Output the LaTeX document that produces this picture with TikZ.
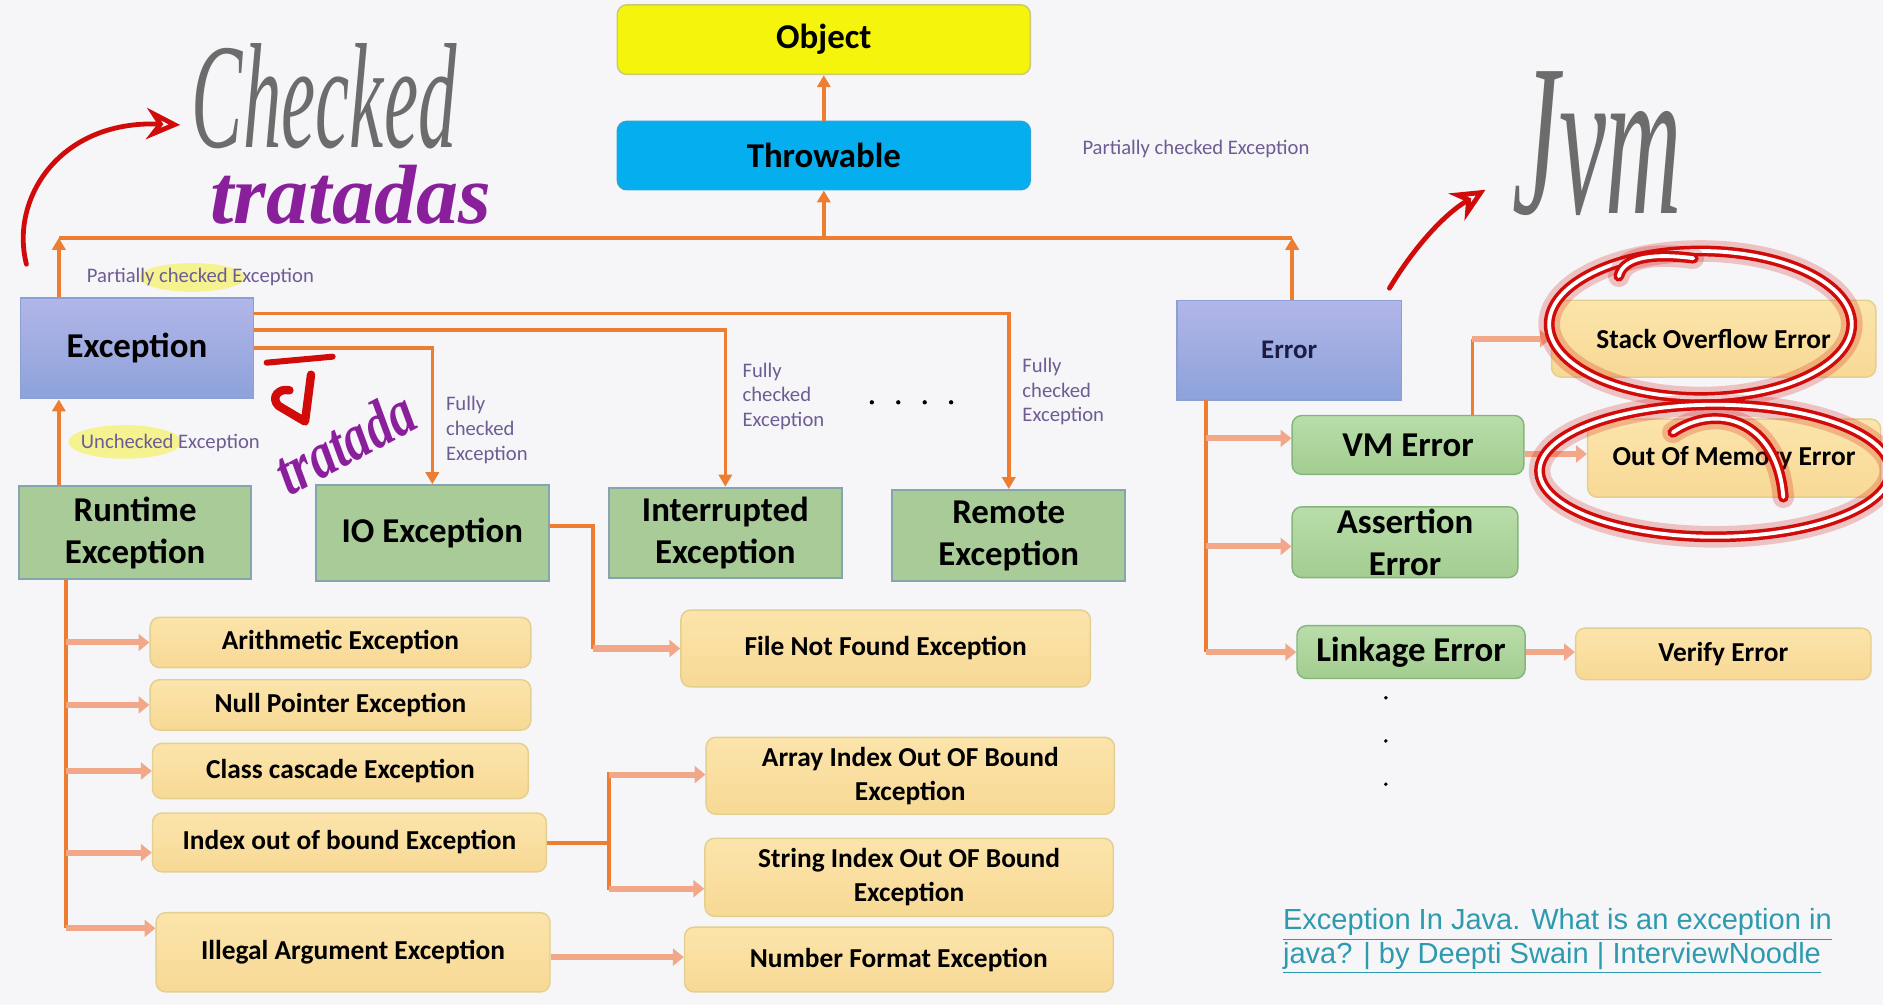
\documentclass[tikz,border=0pt]{standalone}
\usepackage{fontspec}
\usepackage{graphicx}
\setmainfont{Carlito}
\newfontfamily\linkfont{Liberation Sans}
\newfontfamily\handfont{Liberation Serif}
\usetikzlibrary{arrows.meta,calc}

\definecolor{bg}{HTML}{F6F6F8}
\definecolor{connc}{HTML}{ED7D31}
\definecolor{salm}{HTML}{F2A888}
\definecolor{objY}{HTML}{F4F40C}
\definecolor{objB}{HTML}{C8C878}
\definecolor{thrB}{HTML}{05AEEE}
\definecolor{thrD}{HTML}{2BA3DA}
\definecolor{purT}{HTML}{B2B6E8}
\definecolor{purB}{HTML}{8CA2DA}
\definecolor{purD}{HTML}{8C9FD4}
\definecolor{grnF}{HTML}{A8CB97}
\definecolor{grnD}{HTML}{86A3B0}
\definecolor{grnT}{HTML}{B9DDAA}
\definecolor{grnBot}{HTML}{A3CD90}
\definecolor{grnR}{HTML}{86B57C}
\definecolor{orT}{HTML}{FBE4AB}
\definecolor{orB}{HTML}{F8D995}
\definecolor{orD}{HTML}{E3CF90}
\definecolor{lblc}{HTML}{6E5C94}
\definecolor{linkc}{HTML}{2E9AAE}
\definecolor{ink}{HTML}{D10A0A}
\definecolor{pen}{HTML}{6C6C6C}
\definecolor{purp}{HTML}{8A1F9C}
\definecolor{hl}{HTML}{F5F23A}
\definecolor{navy}{HTML}{1C1C44}

\newcommand\bigf{\fontsize{14.5}{17.5}\selectfont\bfseries}
\newcommand\midf{\fontsize{11.4}{14}\selectfont\bfseries}
\newcommand\lblf{\fontsize{8.6}{10.25}\selectfont}

\tikzset{
 boxbase/.style={inner sep=0pt, align=center, text=black},
 objbox/.style={boxbase, rounded corners=4pt, fill=objY, draw=objB, line width=.6pt, font=\bigf},
 thrbox/.style={boxbase, rounded corners=4pt, fill=thrB, draw=thrD, line width=.6pt, font=\bigf},
 purbox/.style={boxbase, top color=purT, bottom color=purB, draw=purD, line width=.6pt},
 grnbox/.style={boxbase, fill=grnF, draw=grnD, line width=.8pt, font=\bigf},
 grnrbox/.style={boxbase, rounded corners=4pt, top color=grnT, bottom color=grnBot, draw=grnR, line width=.6pt, font=\bigf},
 orbox/.style={boxbase, rounded corners=4pt, top color=orT, bottom color=orB, draw=orD, line width=.6pt, font=\midf},
 conline/.style={draw=connc, line width=1.5pt},
 conarrow/.style={conline, -{Triangle[length=5pt,width=5.5pt]}},
 subarrow/.style={draw=salm, line width=2.5pt, -{Triangle[length=4.5pt,width=7pt]}},
 lbl/.style={text=lblc, font=\lblf, inner sep=0pt, align=left, anchor=west},
 glow/.style={draw=ink, line width=9pt, draw opacity=.22, line cap=round},
 redcore/.style={draw=ink, line width=4.5pt, line cap=round},
 whitecore/.style={draw=white, line width=1.6pt, line cap=round},
 redpen/.style={draw=ink, line width=2pt, line cap=round},
}

\newcommand\bx[7]{\node[#2, minimum width={(#5-#3)*0.5pt}, minimum height={(#6-#4)*0.5pt}] (#1) at ({(#3+#5)/2},{(#4+#6)/2}) {#7};}
\newcommand\neon[1]{\path[glow] #1; \path[redcore] #1; \path[whitecore] #1;}

\begin{document}
\begin{tikzpicture}[x=0.5pt,y=-0.5pt]
\fill[bg] (0,0) rectangle (1568,837);
\useasboundingbox (0,0) rectangle (1568,837);

% highlights
\fill[hl, opacity=.55] (160,231) ellipse (44 and 12);
\fill[hl, opacity=.55] (104,368) ellipse (47 and 14);

% boxes
\bx{object}{objbox}{514}{4}{858}{62}{Object}
\bx{throw}{thrbox}{514}{101}{858}{158}{Throwable}
\bx{exc}{purbox, font=\bigf}{17}{248}{211}{332}{Exception}
\bx{err}{purbox, font=\fontsize{11.2}{13}\selectfont\bfseries, text=navy}{980}{250}{1167}{333}{Error}
\bx{rt}{grnbox}{16}{405}{209}{482}{Runtime\\Exception}
\bx{io}{grnbox}{263}{404}{457}{484}{IO Exception}
\bx{intr}{grnbox}{507}{406}{701}{481}{Interrupted\\Exception}
\bx{rem}{grnbox}{743}{408}{937}{484}{Remote\\Exception}
\bx{arith}{orbox}{125}{514}{442}{556}{Arithmetic Exception}
\bx{npe}{orbox}{125}{566}{442}{608}{Null Pointer Exception}
\bx{cce}{orbox}{127}{619}{440}{665}{Class cascade Exception}
\bx{iob}{orbox}{127}{677}{455}{726}{Index out of bound Exception}
\bx{iae}{orbox}{130}{760}{458}{826}{Illegal Argument Exception}
\bx{fnf}{orbox}{567}{508}{908}{572}{File Not Found Exception}
\bx{aiob}{orbox}{588}{614}{928}{678}{Array Index Out OF Bound\\Exception}
\bx{siob}{orbox}{587}{698}{927}{763}{String Index Out OF Bound\\Exception}
\bx{nfe}{orbox}{570}{772}{927}{826}{Number Format Exception}
\bx{vm}{grnrbox}{1076}{346}{1269}{395}{VM Error}
\bx{ae}{grnrbox}{1076}{422}{1264}{481}{Assertion\\Error}
\bx{le}{grnrbox}{1080}{521}{1270}{565}{Linkage Error}
\bx{soe}{orbox}{1292}{250}{1562}{314}{Stack Overflow Error}
\bx{oom}{orbox}{1322}{349}{1566}{414}{Out Of Memory Error}
\bx{ve}{orbox}{1312}{523}{1558}{566}{Verify Error}

% labels
\node[lbl] (pc1) at (72,231) {Partially checked Exception};
\node[lbl] (pc2) at (901,124) {Partially checked Exception};
\node[lbl] (unc) at (67,369) {Unchecked Exception};
\node[lbl] (fc1) at (371,358) {Fully\\checked\\Exception};
\node[lbl] (fc2) at (618,330) {Fully\\checked\\Exception};
\node[lbl] (fc3) at (851,326) {Fully\\checked\\Exception};
\node[text=linkc, font=\linkfont\fontsize{12.1}{14}\selectfont, align=left, anchor=west, inner sep=0pt] (link) at (1068,784)
  {\underline{Exception In Java. What is an exception in}\\\underline{java? | by Deepti Swain | InterviewNoodle}};

% dots
\foreach \x in {726,748,770,792} \fill (\x,335) circle (1.8);
\foreach \y in {581,617,653} \fill (1154,\y) circle (1.6);

% main hierarchy connectors
\coordinate (busL) at (49,198);
\coordinate (busR) at (1076,198);
\coordinate (busM) at (686,198);
\draw[conarrow] (throw.north) -- (object.south);
\draw[conline] (busL) -- (busR);
\draw[conarrow] (busM) -- (throw.south);
\draw[conarrow] (exc.north -| busL) -- (busL);
\draw[conarrow] (err.north -| busR) -- (busR);
\draw[conarrow] (rt.north -| busL) -- (exc.south -| busL);
\draw[conarrow] (exc.east |- 0,261) -| (rem.north);
\draw[conarrow] (exc.east |- 0,275) -| (intr.north);
\draw[conarrow] (exc.east |- 0,290) -| (io.north);

% runtime children
\coordinate (rtTop) at (55,482);
\coordinate (rtBot) at (55,773);
\draw[conline] (rtTop) -- (rtBot);
\draw[subarrow] (rtTop |- arith.west) -- (arith.west);
\draw[subarrow] (rtTop |- npe.west) -- (npe.west);
\draw[subarrow] (rtTop |- cce.west) -- (cce.west);
\draw[subarrow] (55,710) -- (iob.west |- 0,710);
\draw[subarrow] (rtBot) -- (iae.west |- rtBot);

% IO -> File not found
\coordinate (ioFork) at (494,540);
\draw[conline] (io.east |- 0,438) -| (ioFork);
\draw[subarrow] (ioFork) -- (fnf.west);

% index out of bound -> array / string
\coordinate (ixFork) at (507,702);
\draw[conline] (iob.east |- ixFork) -- (ixFork);
\draw[conline] (507,643) -- (507,741);
\draw[subarrow] (507,645) -- (aiob.west |- 0,645);
\draw[subarrow] (507,740) -- (siob.west |- 0,740);

% illegal argument -> number format
\draw[subarrow] (iae.east |- 0,797) -- (nfe.west |- 0,797);

% Error children
\coordinate (erTop) at (1004,333);
\coordinate (erBot) at (1004,543);
\draw[conline] (erTop) -- (erBot);
\draw[subarrow] (1004,365) -- (vm.west |- 0,365);
\draw[subarrow] (1004,455) -- (ae.west |- 0,455);
\draw[subarrow] (erBot) -- (le.west |- erBot);
\coordinate (vmUp) at (1226,282);
\draw[conline] (vm.north -| vmUp) -- (vmUp);
\draw[subarrow] (vmUp) -- (soe.west |- vmUp);
\draw[subarrow] (vm.east |- 0,378) -- (oom.west |- 0,378);
\draw[subarrow] (le.east) -- (ve.west |- le.east);

% handwritten annotations
\node[text=pen, font=\handfont\itshape\fontsize{32}{32}\selectfont, inner sep=0pt] (hwchk) at (270,80) {\scalebox{1}[1.95]{Checked}};
\node[text=purp, font=\handfont\itshape\bfseries\fontsize{35}{35}\selectfont, inner sep=0pt] (hwtrat) at (292,162) {tratadas};
\node[text=pen, font=\handfont\itshape\fontsize{44}{44}\selectfont, inner sep=0pt] (hwjvm) at (1330,120) {\scalebox{1}[2.05]{Jvm}};
\node[text=purp, font=\handfont\itshape\bfseries\fontsize{21}{21}\selectfont, inner sep=0pt, rotate=28] (hwtrat2) at (287,368) {\scalebox{1}[1.3]{tratada}};

\coordinate (a1s) at (22,220);
\coordinate (a1e) at (150,104);
\draw[redpen, -{Stealth[length=14pt,width=13pt,open]}] (a1s) .. controls (8,165) and (50,100) .. (a1e);
\coordinate (a2s) at (1157,240);
\coordinate (a2e) at (1237,158);
\draw[redpen, -{Stealth[length=14pt,width=13pt,open]}] (a2s) .. controls (1175,210) and (1200,180) .. (a2e);

% red check with bar
\draw[ink, line width=2.5pt, line cap=round] (222,302) -- (277,297);
\draw[ink, line width=3.5pt, line cap=round, line join=round] (241,325) .. controls (232,323) and (225,331) .. (232,338) -- (254,351) -- (259,312);

% red figure-eight round the two errors
\neon{(1416,270) ellipse (126 and 61)}
\neon{(1428,392) ellipse (146 and 55)}
\neon{(1348,230) .. controls (1352,213) and (1380,211) .. (1410,215)}
\neon{(1393,360) .. controls (1430,335) and (1480,350) .. (1485,414)}
\end{tikzpicture}
\end{document}
